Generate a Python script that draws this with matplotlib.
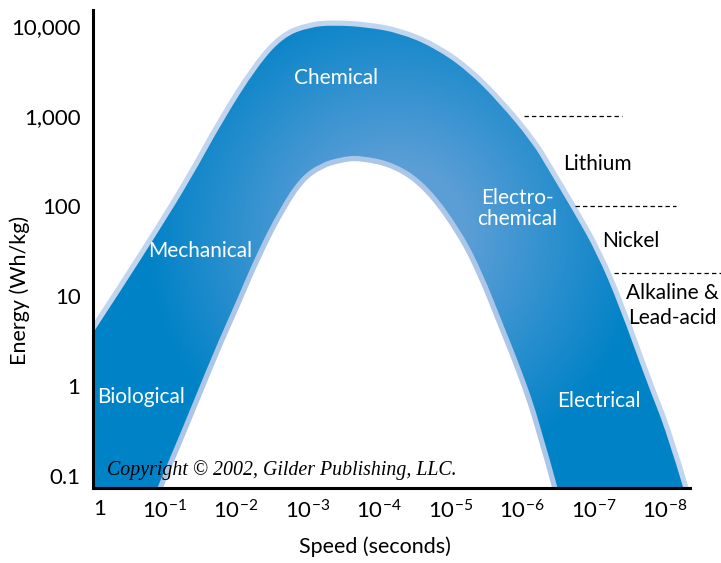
import numpy as np
import matplotlib
matplotlib.use("Agg")
import matplotlib.pyplot as plt
from matplotlib.patches import PathPatch
from matplotlib.path import Path
from matplotlib.ticker import FixedLocator, FixedFormatter, NullLocator

plt.rcParams['font.family'] = ['Lato', 'DejaVu Sans']
plt.rcParams['mathtext.fontset'] = 'custom'
plt.rcParams['mathtext.rm'] = 'Lato'
plt.rcParams['mathtext.it'] = 'Lato:italic'

# speed axis: exponent k means 10^-k seconds
x_ticks = [0, 1, 2, 3, 4, 5, 6, 7, 8]
x_labels = ["1"] + [r"10$^{-%d}$" % k for k in range(1, 9)]
y_ticks = [0.1, 1, 10, 100, 1000, 10000]
y_labels = ["0.1", "1", "10", "100", "1,000", "10,000"]

# outer (upper) edge of the energy band
outer_k = [0.0, 0.42, 0.90, 1.36, 1.82, 2.29, 2.66, 3.03, 3.36, 3.83, 4.29,
           4.76, 5.23, 5.69, 6.15, 6.35, 6.71, 7.05, 7.37, 7.75, 8.03, 8.27]
outer_e = [3.9, 12.6, 50, 195, 900, 3500, 7550, 9750, 10250, 9750, 8360,
           5840, 3240, 1390, 500, 271, 90, 30, 7.5, 1.08, 0.30, 0.068]
# inner (lower) edge of the energy band
inner_k = [0.88, 1.26, 1.68, 2.01, 2.29, 2.62, 2.90, 3.18, 3.46, 3.73, 4.25,
           4.71, 5.17, 5.45, 5.73, 6.01, 6.25, 6.51]
inner_e = [0.068, 0.35, 2.33, 9.0, 30, 97, 210, 300, 350, 369, 300,
           163, 50, 18, 5.0, 1.4, 0.39, 0.068]

band_labels = ["Chemical", "Mechanical", "Biological", "Electro-\nchemical", "Electrical"]
band_label_k = [3.40, 1.50, 0.67, 5.93, 7.08]
band_label_e = [2640, 32, 0.76, 95, 0.68]

battery_names = ["Lithium", "Nickel", "Alkaline &\nLead-acid"]
battery_name_k = [7.05, 7.52, 8.10]
battery_name_e = [295, 41, 7.9]
divider_e = [1000, 100, 18]
divider_k0 = [6.03, 6.74, 7.29]
divider_k1 = [7.40, 8.15, 8.78]


def smooth_path(ks, es):
    """Quadratic B-spline path (Bezier segments) through the read points."""
    lk = np.asarray(ks, float)
    le = np.log10(np.asarray(es, float))
    verts = [(lk[0], le[0])]
    codes = [Path.MOVETO]
    n = len(lk)
    for i in range(1, n - 1):
        mx, my = (lk[i] + lk[i + 1]) / 2, (le[i] + le[i + 1]) / 2
        if i == n - 2:
            mx, my = lk[-1], le[-1]
        verts += [(lk[i], le[i]), (mx, my)]
        codes += [Path.CURVE3, Path.CURVE3]
    verts = [(x, 10 ** y) for x, y in verts]
    return verts, codes


fig = plt.figure(figsize=(7.21, 5.63), dpi=100)
ax = fig.add_axes([0.129, 0.133, 0.828, 0.849])
ax.set_yscale('log')
ax.set_xlim(0, 8.35)
ax.set_ylim(0.0736, 15060)

ov, oc = smooth_path(outer_k, outer_e)
iv, ic = smooth_path(inner_k, inner_e)

# light edges
ax.add_patch(PathPatch(Path(ov, oc), facecolor='none', edgecolor='#C2D5EE',
                       lw=7.5, joinstyle='round', capstyle='butt', zorder=1))
ax.add_patch(PathPatch(Path(iv, ic), facecolor='none', edgecolor='#ABC6E7',
                       lw=7.5, joinstyle='round', capstyle='butt', zorder=1))

# band region: outer edge, then inner edge reversed, closed at lower left
iv_r, ic_r = smooth_path(inner_k[::-1], inner_e[::-1])
band_verts = ov + [iv_r[0]] + iv_r[1:] + [(-0.3, 0.068), (-0.3, outer_e[0]), ov[0]]
band_codes = oc + [Path.LINETO] + ic_r[1:] + [Path.LINETO, Path.LINETO, Path.CLOSEPOLY]
band = PathPatch(Path(band_verts, band_codes), facecolor='none', edgecolor='none',
                 transform=ax.transData)
ax.add_patch(band)

# radial gradient in pixel space
W, H = 600, 480
xs = np.linspace(93, 690, W)
ys = np.linspace(10, 488, H)
XX, YY = np.meshgrid(xs, ys)
d = np.hypot(XX - 395, YY - 235)
t = np.clip((d - 70) / (250 - 70), 0, 1)
light = np.array([0.36, 0.62, 0.84])
dark = np.array([0.00, 0.51, 0.78])
img = light[None, None, :] * (1 - t[..., None]) + dark[None, None, :] * t[..., None]
im = ax.imshow(img, extent=[0, 1, 0, 1], transform=ax.transAxes,
               aspect='auto', origin='upper', zorder=2, interpolation='bilinear')
im.set_clip_path(band)

for s, k, e in zip(band_labels, band_label_k, band_label_e):
    ax.text(k, e, s, color='white', fontsize=15, ha='center', va='center',
            zorder=5, linespacing=1.05)

for s, k, e in zip(battery_names, battery_name_k, battery_name_e):
    ax.text(k, e, s, color='black', fontsize=15, ha='center', va='center',
            zorder=5, linespacing=1.3, clip_on=False)
for e, k0, k1 in zip(divider_e, divider_k0, divider_k1):
    ax.plot([k0, k1], [e, e], color='black', lw=0.9, ls=(0, (3.5, 2.5)),
            zorder=5, clip_on=False)

ax.text(0.196, 0.117, "Copyright \u00a9 2002, Gilder Publishing, LLC.",
        family=['Liberation Serif', 'DejaVu Serif'], style='italic',
        fontsize=14.3, ha='left', va='center', zorder=6)

for sp in ['top', 'right']:
    ax.spines[sp].set_visible(False)
for sp in ['left', 'bottom']:
    ax.spines[sp].set_linewidth(2.2)
    ax.spines[sp].set_zorder(7)

ax.xaxis.set_major_locator(FixedLocator(x_ticks))
ax.xaxis.set_major_formatter(FixedFormatter(x_labels))
ax.yaxis.set_major_locator(FixedLocator(y_ticks))
ax.yaxis.set_major_formatter(FixedFormatter(y_labels))
ax.yaxis.set_minor_locator(NullLocator())
ax.tick_params(axis='both', length=0, labelsize=16)
ax.tick_params(axis='x', pad=8)
ax.tick_params(axis='y', pad=9)
ax.get_xticklabels()[0].set_horizontalalignment('left')

fig.text(375 / 721, 1 - 547 / 563, "Speed (seconds)", fontsize=15.5,
         ha='center', va='center')
fig.text(20 / 721, 1 - 290 / 563, "Energy (Wh/kg)", fontsize=15.5,
         ha='center', va='center', rotation=90)

fig.savefig("out.png", dpi=100)
